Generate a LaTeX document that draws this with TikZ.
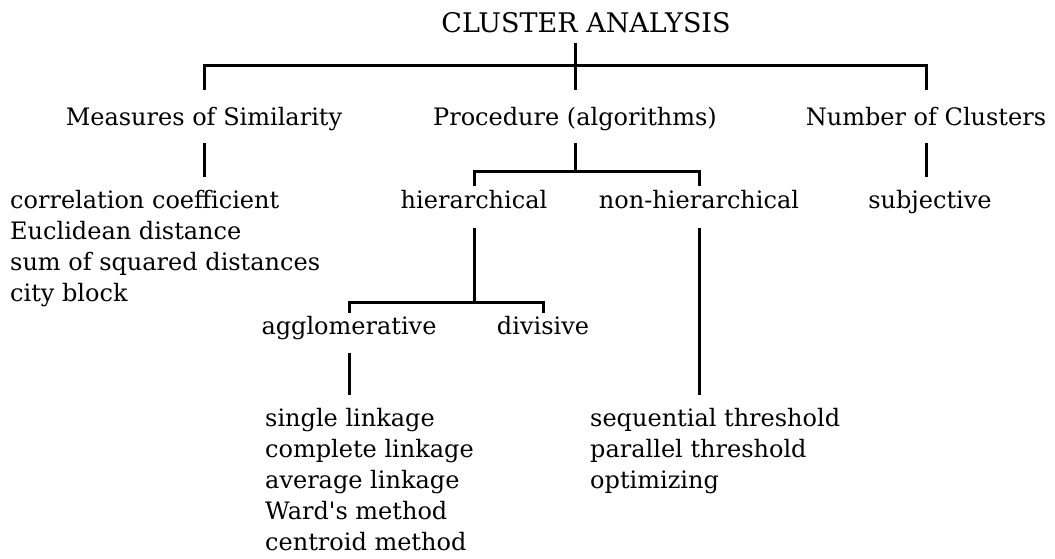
\documentclass[tikz,border=0pt]{standalone}
\usepackage{fontspec}
\setmainfont{DejaVu Serif}
\usetikzlibrary{positioning}
\tikzset{
  link/.style    ={line width=3pt},
  lbl/.style     ={inner sep=0pt, anchor=base, font=\fontsize{24}{28}\selectfont},
  lvlone/.style  ={lbl, text height=36pt, text depth=17pt},
  lvltwo/.style  ={lbl, text height=22pt, text depth=20pt},
  lvlthree/.style={lbl, text height=21pt, text depth=19pt},
  entry/.style   ={lbl, anchor=base west, text height=31pt},
}

\begin{document}
\begin{tikzpicture}[x=1pt,y=-1pt]
  \useasboundingbox (0,0) rectangle (1055,559);
  % top level
  \node[lbl, font=\fontsize{27}{30}\selectfont, text depth=10pt] (root) at (586,33) {CLUSTER ANALYSIS};
  \node[lvlone] (meas) at (204,126) {Measures of Similarity};
  \node[lvlone] (proc) at (575,126) {Procedure (algorithms)};
  \node[lvlone] (numc) at (926,126) {Number of Clusters};
  \coordinate (bar1) at (575,66);
  \draw[link] (root.south -| proc) -- (proc.north);
  \draw[link] (meas.north) |- (bar1) -| (numc.north);
  % second level
  \node[lvltwo] (hier) at (474,208) {hierarchical};
  \node[lvltwo] (nonh) at (699,208) {non-hierarchical};
  \coordinate (bar2) at (575,172);
  \draw[link] (proc.south) -- (bar2);
  \draw[link] (hier.north) |- (bar2) -| (nonh.north);
  \foreach \t [count=\i from 0] in {correlation coefficient,Euclidean distance,sum of squared distances,city block}
    \node[entry] (m\i) at (10,208+31*\i) {\t};
  \node[entry, anchor=base] (subj) at (930,208) {subjective};
  \draw[link] (meas.south) -- (meas.south |- m0.north);
  \draw[link] (numc.south) -- (numc.south |- subj.north);
  % hierarchical split
  \node[lvlthree] (aggl) at (349,334) {agglomerative};
  \node[lvlthree] (divi) at (543,334) {divisive};
  \coordinate (bar3) at (474,302);
  \draw[link] (hier.south) -- (bar3);
  \draw[link] (aggl.north) |- (bar3) -| (divi.north);
  % method lists
  \foreach \t [count=\i from 0] in {single linkage,complete linkage,average linkage,Ward\textquotesingle s method,centroid method}
    \node[entry] (a\i) at (265,426+31*\i) {\t};
  \foreach \t [count=\i from 0] in {sequential threshold,parallel threshold,optimizing}
    \node[entry] (s\i) at (590,426+31*\i) {\t};
  \draw[link] (aggl.south) -- (aggl.south |- a0.north);
  \draw[link] (nonh.south) -- (nonh.south |- s0.north);
\end{tikzpicture}
\end{document}
